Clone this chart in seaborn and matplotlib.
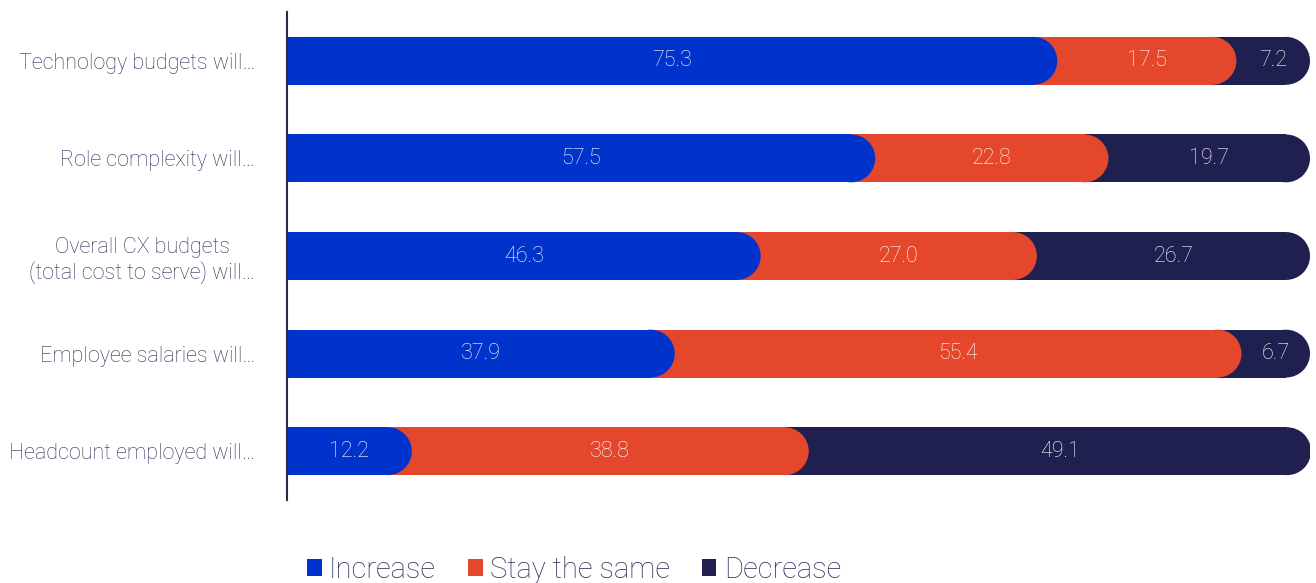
import numpy as np
import pandas as pd
import seaborn as sns
import matplotlib.pyplot as plt
from matplotlib.patches import Ellipse, Patch

# Data
categories = ['Technology budgets will…', 'Role complexity will…',
              'Overall CX budgets\n(total cost to serve) will…',
              'Employee salaries will…', 'Headcount employed will…']
increase = [75.3, 57.5, 46.3, 37.9, 12.2]
stay_same = [17.5, 22.8, 27.0, 55.4, 38.8]
decrease = [7.2, 19.7, 26.7, 6.7, 49.1]

series_names = ['Increase', 'Stay the same', 'Decrease']
colors = ['#0033cc', '#e5472d', '#1f1f50']
text_color = '#2e2e5a'

sns.set_style('white')
plt.rcParams['font.family'] = ['Roboto', 'DejaVu Sans']

df = pd.DataFrame({'category': categories, 'Increase': increase,
                   'Stay the same': stay_same, 'Decrease': decrease})
df['cum_inc'] = df['Increase']
df['cum_stay'] = df['Increase'] + df['Stay the same']
df['cum_dec'] = df['cum_stay'] + df['Decrease']

fig = plt.figure(figsize=(13.16, 5.83), dpi=100)
ax = fig.add_axes([287 / 1316, 1 - 500 / 583, (1310 - 287) / 1316, 488 / 583])

bar_h = 0.49
# draw back to front so each segment's round end overlaps the next one
layers = [('cum_dec', colors[2], 1), ('cum_stay', colors[1], 2), ('cum_inc', colors[0], 3)]
for col, c, z in layers:
    n_before = len(ax.patches)
    sns.barplot(data=df, x=col, y='category', orient='h', color=c,
                width=bar_h, ax=ax, zorder=z, saturation=1, linewidth=0)
    for p in ax.patches[n_before:]:
        p.set_zorder(z)
        p.set_edgecolor('none')

ax.set_xlim(0, 100)
ax.set_ylim(4.5, -0.5)

# rounded right end: radius half the bar height in pixels
fig.canvas.draw()
bbox = ax.get_window_extent()
px_per_x = bbox.width / 100
px_per_y = bbox.height / 5
r_px = bar_h * px_per_y / 2
r_x = r_px / px_per_x

for p in list(ax.patches):
    x0, y0 = p.get_x(), p.get_y()
    w, h = p.get_width(), p.get_height()
    z = p.get_zorder()
    fc = p.get_facecolor()
    p.set_width(w - r_x)
    ax.add_patch(Ellipse((x0 + w - r_x, y0 + h / 2), 2 * r_x, h,
                         facecolor=fc, edgecolor='none', zorder=z))

# value labels centred in each segment
for i in range(len(categories)):
    starts = [0, increase[i], increase[i] + stay_same[i]]
    vals = [increase[i], stay_same[i], decrease[i]]
    for s, v in zip(starts, vals):
        ax.text(s + v / 2, i, f'{v:.1f}', ha='center', va='center',
                color='white', fontsize=15.5, fontweight='light', zorder=5)

ax.set_xlabel('')
ax.set_ylabel('')
ax.set_xticks([])
ax.tick_params(axis='y', length=0, pad=23)
for lab in ax.get_yticklabels():
    lab.set_fontsize(15.5)
    lab.set_fontweight('light')
    lab.set_color(text_color)
    lab.set_horizontalalignment('right')
    lab.set_multialignment('center')

for side in ['top', 'right', 'bottom']:
    ax.spines[side].set_visible(False)
ax.spines['left'].set_color('#2a2a50')
ax.spines['left'].set_linewidth(1.5)
ax.spines['left'].set_zorder(6)

handles = [Patch(facecolor=c, edgecolor='none') for c in colors]
leg = fig.legend(handles, series_names, loc='center',
                 bbox_to_anchor=(574 / 1316, 1 - 570 / 583), ncol=3,
                 frameon=False, fontsize=21, handlelength=0.5, handleheight=0.5,
                 handletextpad=0.25, columnspacing=1.1)
for t in leg.get_texts():
    t.set_color(text_color)
    t.set_fontweight('light')

fig.savefig('out.png', dpi=100)
